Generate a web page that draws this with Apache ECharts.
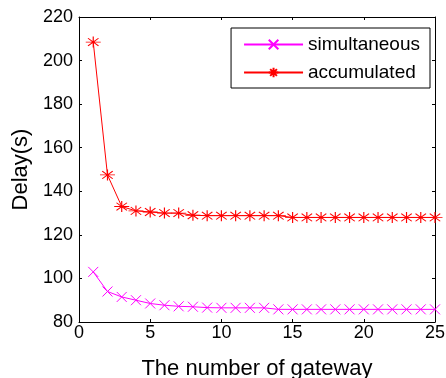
<!DOCTYPE html>
<html><head><meta charset="utf-8">
<script src="https://cdn.jsdelivr.net/npm/echarts@6/dist/echarts.min.js"></script>
<style>html,body{margin:0;padding:0;background:#fff}#c{width:446px;height:378px}</style>
</head><body><div id="c"></div>
<script>
const gateways = [1,2,3,4,5,6,7,8,9,10,11,12,13,14,15,16,17,18,19,20,21,22,23,24,25];
const simultaneous = [103,94,91.5,90,88.5,87.7,87.2,87,86.6,86.5,86.5,86.5,86.5,85.8,85.8,85.8,85.8,85.8,85.8,85.8,85.8,85.8,85.8,85.8,85.8];
const accumulated = [208.5,147.5,133,131,130.5,130,130,129,128.8,128.8,128.8,128.8,128.8,128.8,128,128,128,128,128,128,128,128,128,128,128];
const xTicks = [0,5,10,15,20,25];
const yTicks = [80,100,120,140,160,180,200,220];

const xSym = 'path://M0,0L10,10M10,0L0,10';
const starSym = 'path://M5,0L5,10M0,5L10,5M1.5,1.5L8.5,8.5M8.5,1.5L1.5,8.5';
const font = 'Liberation Sans, Arial, sans-serif';
const chart = echarts.init(document.getElementById('c'));
const axisCommon = {
  axisLine:{show:true,onZero:false,lineStyle:{color:'#000',width:1}},
  axisTick:{show:true,inside:true,length:3,lineStyle:{color:'#000'}},
  splitLine:{show:false}
};
chart.setOption({
  animation:false,
  grid:{left:79,right:11,top:17,bottom:56,containLabel:false,outerBoundsMode:'none'},
  legend:{
    data:['simultaneous','accumulated'],
    right:16,top:28,orient:'vertical',
    borderColor:'#000',borderWidth:1,backgroundColor:'#fff',borderRadius:0,
    padding:[7,10,6,12],itemGap:9,itemWidth:59,itemHeight:12,
    textStyle:{fontFamily:font,fontSize:19,color:'#000'}
  },
  xAxis:[
    Object.assign({type:'value',min:0,max:25,interval:5,
      axisLabel:{color:'#000',fontFamily:font,fontSize:18,margin:2},
      name:'The number of gateway',nameLocation:'middle',nameGap:36,
      nameTextStyle:{color:'#000',fontFamily:font,fontSize:22}},axisCommon),
    Object.assign({type:'value',min:0,max:25,interval:5,position:'top',axisLabel:{show:false}},axisCommon)
  ],
  yAxis:[
    Object.assign({type:'value',min:80,max:220,interval:20,
      axisLabel:{color:'#000',fontFamily:font,fontSize:18,margin:6},
      name:'Delay(s)',nameLocation:'middle',nameGap:46,
      nameTextStyle:{color:'#000',fontFamily:font,fontSize:22}},axisCommon),
    Object.assign({type:'value',min:80,max:220,interval:20,position:'right',axisLabel:{show:false}},axisCommon)
  ],
  series:[
    {name:'simultaneous',type:'line',data:gateways.map((g,i)=>[g,simultaneous[i]]),
      symbol:xSym,symbolSize:10,showSymbol:true,
      lineStyle:{color:'#ff00ff',width:1},
      itemStyle:{color:'#ff00ff',borderColor:'#ff00ff',borderWidth:1}},
    {name:'accumulated',type:'line',data:gateways.map((g,i)=>[g,accumulated[i]]),
      symbol:starSym,symbolSize:[15,11],showSymbol:true,
      lineStyle:{color:'#ff0000',width:1},
      itemStyle:{color:'#ff0000',borderColor:'#ff0000',borderWidth:1}}
  ]
});
</script></body></html>
